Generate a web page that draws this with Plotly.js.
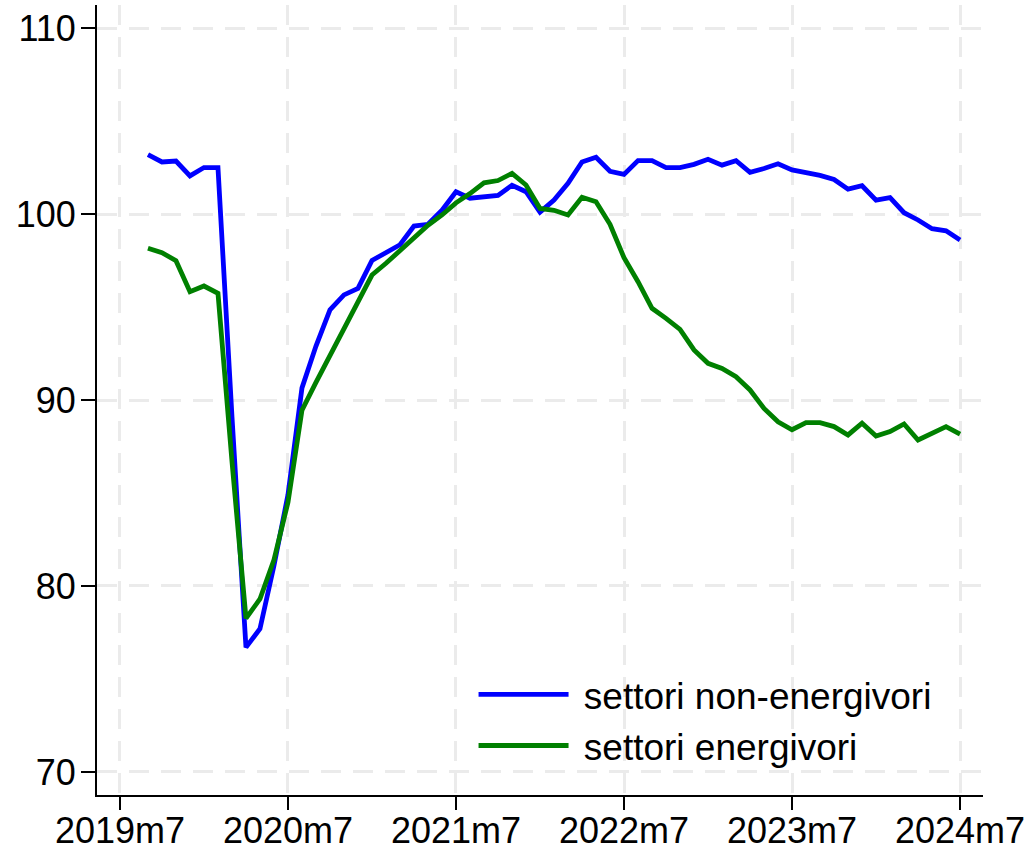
<!DOCTYPE html>
<html>
<head>
<meta charset="utf-8">
<script src="https://cdn.plot.ly/plotly-3.0.1.min.js"></script>
<style>
  html, body { margin: 0; padding: 0; background: #ffffff; }
  #chart { width: 1030px; height: 850px; }
</style>
</head>
<body>
<div id="chart"></div>
<script>
// Months as index: 0 = 2019m7
const months = [
  2,3,4,5,
  6,7,8,9,10,11,12,13,14,15,16,17,
  18,19,20,21,22,23,24,25,26,27,28,29,
  30,31,32,33,34,35,36,37,38,39,40,41,
  42,43,44,45,46,47,48,49,50,51,52,53,
  54,55,56,57,58,59,60
];

const nonEnergivori = [
  103.2, 102.8, 102.85, 102.05,
  102.5, 102.5, 89.1, 76.7, 77.7, 81.1, 84.9, 90.65, 92.9, 94.85, 95.65, 96.0,
  97.5, 97.9, 98.35, 99.35, 99.45, 100.2, 101.2, 100.85, 100.95, 101.0, 101.55, 101.2,
  100.1, 100.75, 101.65, 102.8, 103.05, 102.3, 102.13, 102.87, 102.87, 102.5, 102.5, 102.67,
  102.94, 102.63, 102.87, 102.24, 102.45, 102.7, 102.37, 102.22, 102.08, 101.86, 101.34, 101.52,
  100.75, 100.88, 100.07, 99.68, 99.21, 99.1, 98.6
];

const energivori = [
  98.16, 97.92, 97.49, 95.82,
  96.13, 95.74, 86.7, 78.26, 79.3, 81.4, 84.5, 89.45, 90.95, 92.4, 93.85, 95.3,
  96.72, 97.35, 98.06, 98.69, 99.4, 99.95, 100.6, 101.1, 101.68, 101.8, 102.19, 101.56,
  100.3, 100.2, 99.95, 100.9, 100.66, 99.45, 97.65, 96.36, 94.93, 94.39, 93.8, 92.69,
  91.97, 91.7, 91.25, 90.54, 89.55, 88.83, 88.4, 88.78, 88.78, 88.57, 88.12, 88.75,
  88.06, 88.3, 88.71, 87.85, 88.21, 88.57, 88.16
];

const xTickVals = [0, 12, 24, 36, 48, 60];
const xTickText = ["2019m7", "2020m7", "2021m7", "2022m7", "2023m7", "2024m7"];
const yTickVals = [70, 80, 90, 100, 110];

const seriesNames = ["settori non-energivori", "settori energivori"];

const FONT = "Liberation Sans, Arial, Helvetica, sans-serif";

const traces = [
  {
    x: months, y: nonEnergivori, type: "scatter", mode: "lines",
    name: "\u00a0" + seriesNames[0],
    line: { color: "#0000ff", width: 4.8 }
  },
  {
    x: months, y: energivori, type: "scatter", mode: "lines",
    name: "\u00a0" + seriesNames[1],
    line: { color: "#008000", width: 4.8 }
  }
];

const layout = {
  width: 1030, height: 850,
  margin: { l: 97, r: 47, t: 5, b: 55 },
  paper_bgcolor: "#ffffff",
  plot_bgcolor: "#ffffff",
  font: { family: FONT, size: 36, color: "#000000" },
  showlegend: true,
  legend: {
    x: 0.425, y: 0.166, xanchor: "left", yanchor: "top",
    bgcolor: "rgba(255,255,255,0)",
    font: { family: FONT, size: 37, color: "#000000" },
    itemwidth: 90,
    tracegroupgap: 0
  },
  xaxis: {
    range: [-1.64, 61.64],
    tickmode: "array", tickvals: xTickVals, ticktext: xTickText,
    ticks: "outside", ticklen: 13, tickwidth: 2, tickcolor: "#000000",
    showline: true, linecolor: "#000000", linewidth: 2,
    showgrid: true, gridcolor: "#ebebeb", gridwidth: 3, griddash: "20px,12px",
    zeroline: false,
    ticklabelstandoff: -10,
    tickfont: { family: FONT, size: 36, color: "#000000" }
  },
  yaxis: {
    range: [68.76, 111.24],
    tickmode: "array", tickvals: yTickVals,
    ticks: "outside", ticklen: 14, tickwidth: 2, tickcolor: "#000000",
    showline: true, linecolor: "#000000", linewidth: 2,
    showgrid: true, gridcolor: "#ebebeb", gridwidth: 3, griddash: "20px,12px",
    zeroline: false,
    ticklabelstandoff: -2,
    tickfont: { family: FONT, size: 36, color: "#000000" }
  }
};

Plotly.newPlot("chart", traces, layout, { displayModeBar: false, staticPlot: true });
</script>
</body>
</html>
